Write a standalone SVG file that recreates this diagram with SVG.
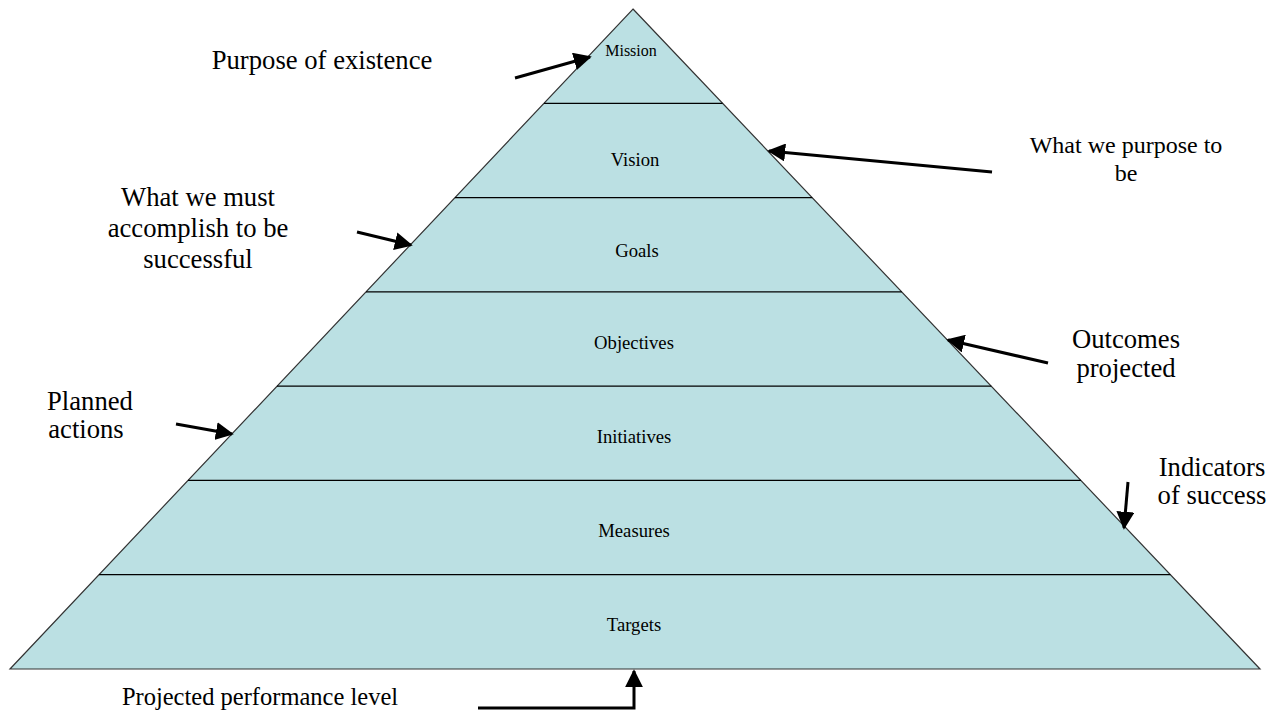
<svg xmlns="http://www.w3.org/2000/svg" width="1279" height="716" viewBox="0 0 1279 716">
<defs>
<style>
.lbl{font-family:"Liberation Serif","Times New Roman",serif;fill:#000;text-anchor:middle}
.out{font-size:26.67px}
.in{font-size:18.67px}
.band{stroke:#000;stroke-width:1.3}
.arr{fill:none;stroke:#000;stroke-width:3;marker-end:url(#ah)}
</style>
<marker id="ah" viewBox="0 0 10 10" refX="9" refY="5" markerWidth="6" markerHeight="6" orient="auto" markerUnits="strokeWidth">
<path d="M0,0 L10,5 L0,10 z" fill="#000"/>
</marker>
</defs>
<rect width="1279" height="716" fill="#fff"/>
<g id="pyramid">
<polygon points="633,9 1260,669 10,669" fill="#BBE0E3" stroke="#333" stroke-width="1.2"/>
<line class="band" x1="544" y1="103.3" x2="722.6" y2="103.3"/>
<line class="band" x1="455" y1="197.6" x2="812.2" y2="197.6"/>
<line class="band" x1="366" y1="291.9" x2="901.8" y2="291.9"/>
<line class="band" x1="277" y1="386.1" x2="991.3" y2="386.1"/>
<line class="band" x1="188" y1="480.4" x2="1080.9" y2="480.4"/>
<line class="band" x1="99" y1="574.7" x2="1170.4" y2="574.7"/>
</g>
<g id="mission"><text class="lbl" x="631" y="56" font-size="16">Mission</text></g>
<g id="vision"><text class="lbl in" x="635" y="166">Vision</text></g>
<g id="goals"><text class="lbl in" x="637" y="257">Goals</text></g>
<g id="objectives"><text class="lbl in" x="634" y="349">Objectives</text></g>
<g id="initiatives"><text class="lbl in" x="634" y="443">Initiatives</text></g>
<g id="measures"><text class="lbl in" x="634" y="537">Measures</text></g>
<g id="targets"><text class="lbl in" x="634" y="631">Targets</text></g>
<g id="label-purpose"><text class="lbl out" x="322" y="69">Purpose of existence</text></g>
<g id="label-vision"><text class="lbl" font-size="24" x="1126" y="153">What we purpose to</text><text class="lbl" font-size="24" x="1126" y="181">be</text></g>
<g id="label-goals"><text class="lbl out" x="198" y="206">What we must</text><text class="lbl out" x="198" y="237">accomplish to be</text><text class="lbl out" x="198" y="268">successful</text></g>
<g id="label-objectives"><text class="lbl out" x="1126" y="348">Outcomes</text><text class="lbl out" x="1126" y="377">projected</text></g>
<g id="label-initiatives"><text class="lbl out" x="90" y="410">Planned</text><text class="lbl out" x="86" y="438">actions</text></g>
<g id="label-measures"><text class="lbl out" x="1212" y="476">Indicators</text><text class="lbl out" x="1212" y="504">of success</text></g>
<g id="label-targets"><text class="lbl" font-size="24.5" x="260" y="705">Projected performance level</text></g>
<g id="connectors">
<line class="arr" x1="515" y1="78" x2="590" y2="57"/>
<line class="arr" x1="992" y1="172" x2="769" y2="151"/>
<line class="arr" x1="357" y1="232" x2="411" y2="245"/>
<line class="arr" x1="1048" y1="363" x2="948" y2="340"/>
<line class="arr" x1="176" y1="424" x2="232" y2="434"/>
<line class="arr" x1="1128" y1="482" x2="1124" y2="528"/>
<polyline class="arr" points="478,708 634,708 634,671"/>
</g>
</svg>
